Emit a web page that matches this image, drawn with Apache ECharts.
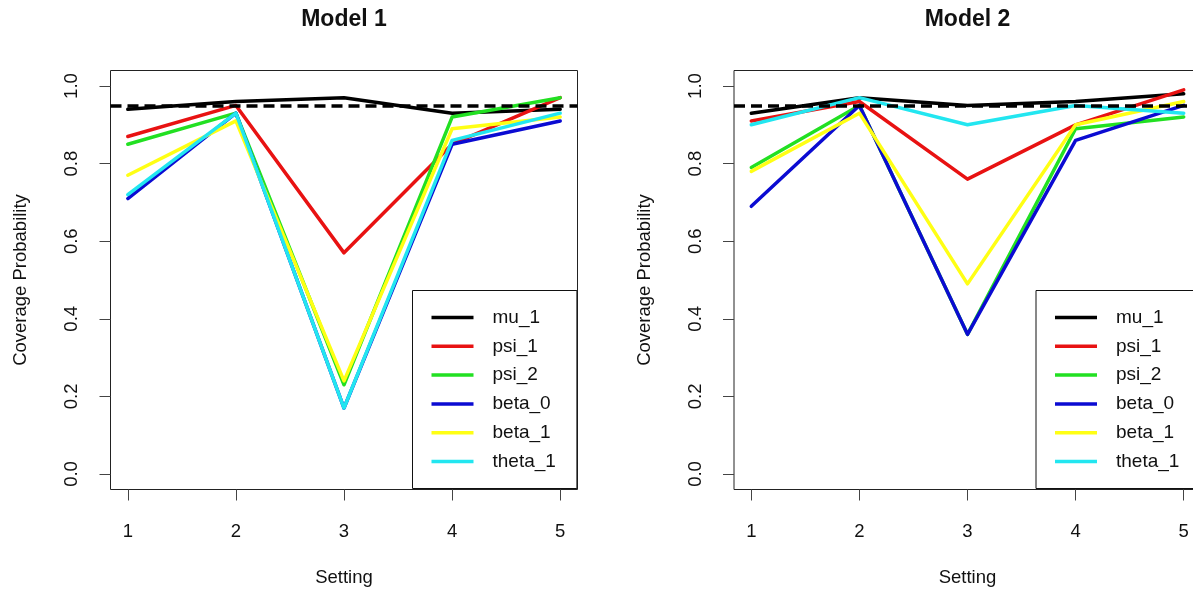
<!DOCTYPE html>
<html>
<head>
<meta charset="utf-8">
<script src="https://cdn.jsdelivr.net/npm/echarts@6/dist/echarts.min.js"></script>
<style>
  html, body { margin: 0; padding: 0; background: #fff; }
  #chart { width: 1193px; height: 595px; }
</style>
</head>
<body>
<div id="chart"></div>
<script>
// settings on the x axis
const settings = [1, 2, 3, 4, 5];
const yTicks = [0, 0.2, 0.4, 0.6, 0.8, 1.0];
const nominal = 0.95;
const paramNames = ['mu_1', 'psi_1', 'psi_2', 'beta_0', 'beta_1', 'theta_1'];
const paramColors = ['#000000', '#e81212', '#22e022', '#0b0bd2', '#ffff14', '#22e6f0'];

// Model 1 coverage
const m1_mu1 = [0.94, 0.96, 0.97, 0.93, 0.94];
const m1_psi1 = [0.87, 0.95, 0.57, 0.85, 0.97];
const m1_psi2 = [0.85, 0.93, 0.23, 0.92, 0.97];
const m1_beta0 = [0.71, 0.93, 0.17, 0.85, 0.91];
const m1_beta1 = [0.77, 0.91, 0.24, 0.89, 0.92];
const m1_theta1 = [0.72, 0.93, 0.17, 0.86, 0.93];

// Model 2 coverage
const m2_mu1 = [0.93, 0.97, 0.95, 0.96, 0.98];
const m2_psi1 = [0.91, 0.96, 0.76, 0.90, 0.99];
const m2_psi2 = [0.79, 0.95, 0.36, 0.89, 0.92];
const m2_beta0 = [0.69, 0.95, 0.36, 0.86, 0.95];
const m2_beta1 = [0.78, 0.93, 0.49, 0.90, 0.96];
const m2_theta1 = [0.90, 0.97, 0.90, 0.95, 0.93];

const model1 = [m1_mu1, m1_psi1, m1_psi2, m1_beta0, m1_beta1, m1_theta1];
const model2 = [m2_mu1, m2_psi1, m2_psi2, m2_beta0, m2_beta1, m2_theta1];

const FONT = '"Liberation Sans", Arial, sans-serif';
const panelLeft = [110.5, 734];
const panelWidth = 467;

const makeXAxis = (gridIndex) => ({
  gridIndex,
  type: 'value',
  min: 0.84,
  max: 5.16,
  name: 'Setting',
  nameLocation: 'middle',
  nameGap: 79,
  nameTextStyle: { fontFamily: FONT, fontSize: 18.5, color: '#111' },
  axisLine: { show: false, onZero: false },
  splitLine: { show: false },
  axisTick: { show: true, inside: false, length: 11, customValues: settings, lineStyle: { color: '#444', width: 1 } },
  axisLabel: { customValues: settings, margin: 33, fontFamily: FONT, fontSize: 18.5, color: '#111' }
});

const makeYAxis = (gridIndex) => ({
  gridIndex,
  type: 'value',
  min: -0.04,
  max: 1.04,
  name: 'Coverage Probability',
  nameLocation: 'middle',
  nameGap: 80,
  nameTextStyle: { fontFamily: FONT, fontSize: 18.5, color: '#111' },
  axisLine: { show: false, onZero: false },
  splitLine: { show: false },
  axisTick: { show: true, inside: false, length: 11, customValues: yTicks, lineStyle: { color: '#444', width: 1 } },
  axisLabel: {
    customValues: yTicks,
    rotate: 90,
    margin: 29,
    fontFamily: FONT,
    fontSize: 18.5,
    color: '#111',
    formatter: (v) => v.toFixed(1)
  }
});

const makeLegend = (i) => ({
  orient: 'vertical',
  left: panelLeft[i] + 302,
  top: 290.5,
  icon: 'rect',
  itemWidth: 42,
  itemHeight: 3.5,
  itemGap: 8.8,
  padding: [17, 21, 17, 19],
  borderColor: '#111',
  borderWidth: 1,
  backgroundColor: '#fff',
  selectedMode: false,
  data: paramNames,
  textStyle: { fontFamily: FONT, fontSize: 19, color: '#111', lineHeight: 20, padding: [0, 0, 0, 14] }
});

let series = [];
[model1, model2].forEach((model, g) => {
  model.forEach((vals, k) => {
    let s = {
      name: paramNames[k],
      type: 'line',
      xAxisIndex: g,
      yAxisIndex: g,
      data: settings.map((x, j) => [x, vals[j]]),
      showSymbol: false,
      symbol: 'none',
      color: paramColors[k],
      lineStyle: { color: paramColors[k], width: 3.5, cap: 'round', join: 'round' },
      animation: false
    };
    if (k === 0) {
      // nominal level reference line
      s.markLine = {
        silent: true,
        symbol: 'none',
        label: { show: false },
        lineStyle: { color: '#000', type: [11, 6], width: 3.5 },
        data: [{ yAxis: nominal }],
        animation: false
      };
    }
    series.push(s);
  });
});

const gridBase = { top: 70.5, width: panelWidth, height: 419, show: true, borderColor: '#222', borderWidth: 1, backgroundColor: '#fff', containLabel: false, outerBoundsMode: 'none' };

const option = {
  backgroundColor: '#fff',
  animation: false,
  title: [
    { text: 'Model 1', left: panelLeft[0] + panelWidth / 2, top: 8, padding: 0, textAlign: 'center',
      textStyle: { fontFamily: FONT, fontSize: 23, fontWeight: 'bold', color: '#111' } },
    { text: 'Model 2', left: panelLeft[1] + panelWidth / 2, top: 8, padding: 0, textAlign: 'center',
      textStyle: { fontFamily: FONT, fontSize: 23, fontWeight: 'bold', color: '#111' } }
  ],
  grid: [
    Object.assign({ left: panelLeft[0] }, gridBase),
    Object.assign({ left: panelLeft[1] }, gridBase)
  ],
  xAxis: [makeXAxis(0), makeXAxis(1)],
  yAxis: [makeYAxis(0), makeYAxis(1)],
  legend: [makeLegend(0), makeLegend(1)],
  series
};

let myChart = echarts.init(document.getElementById('chart'), null, { renderer: 'canvas' });
myChart.setOption(option);
</script>
</body>
</html>
